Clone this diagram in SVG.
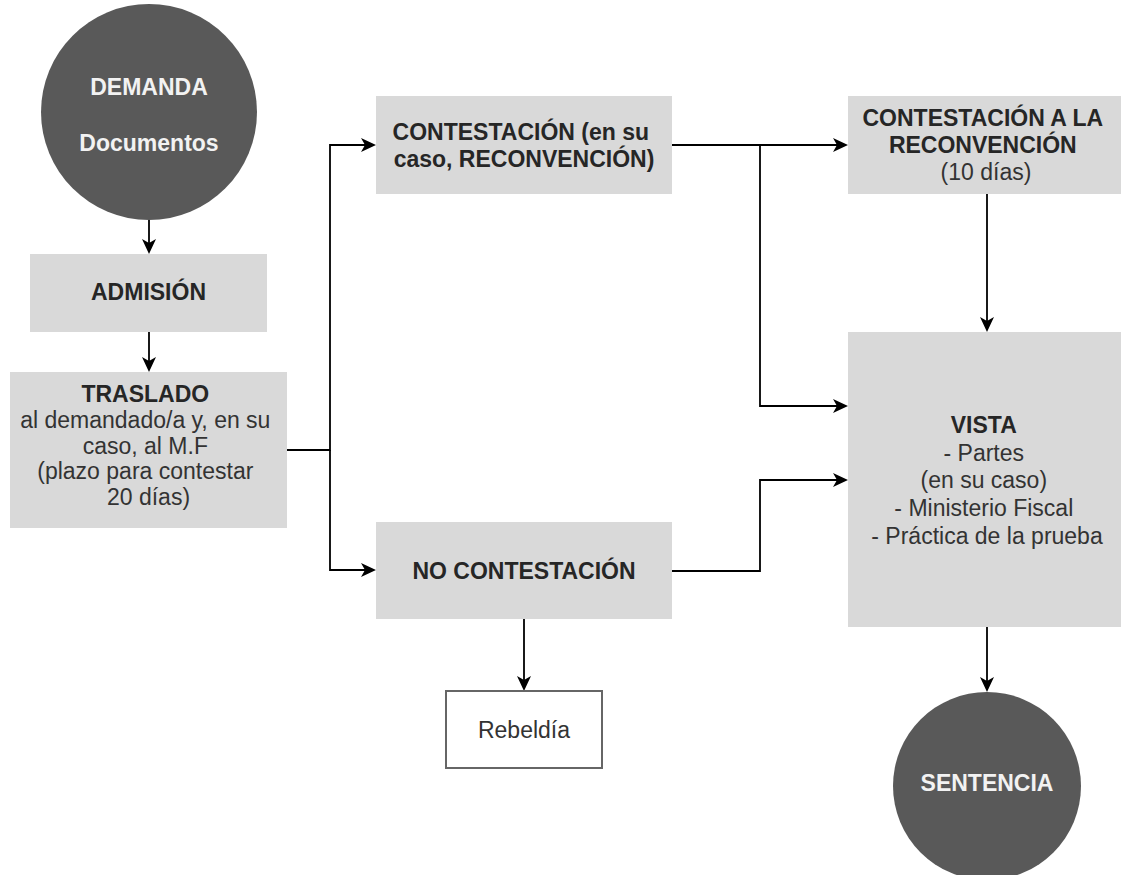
<svg xmlns="http://www.w3.org/2000/svg" width="1121" height="875" viewBox="0 0 1121 875">
  <style>
    .box { fill: #d9d9d9; }
    .circ { fill: #595959; }
    .ctxt { font-family: "Liberation Sans", Arial, sans-serif; font-size: 23px; font-weight: bold; fill: #f2f2f2; text-anchor: middle; }
    .t { font-family: "Liberation Sans", Arial, sans-serif; font-size: 23px; fill: #333333; text-anchor: middle; }
    .b { font-weight: bold; fill: #262626; }
    .edge { fill: none; stroke: #000000; stroke-width: 1.8; }
    .reb { fill: #ffffff; stroke: #666666; stroke-width: 2; }
  </style>
  <defs>
    <marker id="arr" viewBox="-6 -8 18 16" refX="0" refY="0" markerWidth="18" markerHeight="16" orient="auto" markerUnits="userSpaceOnUse">
      <path d="M10,0 L-5,-7 L-1,0 L-5,7 Z" fill="#000000"/>
    </marker>
  </defs>
  <rect width="1121" height="875" fill="#ffffff"/>

  <g id="connectors">
    <path class="edge" d="M149,220 V244" marker-end="url(#arr)"/>
    <path class="edge" d="M149,332 V362" marker-end="url(#arr)"/>
    <path class="edge" d="M287,450 H330 V145 H366" marker-end="url(#arr)"/>
    <path class="edge" d="M330,450 V570 H366" marker-end="url(#arr)"/>
    <path class="edge" d="M672,145 H838" marker-end="url(#arr)"/>
    <path class="edge" d="M760,145 V406 H838" marker-end="url(#arr)"/>
    <path class="edge" d="M672,571 H760 V480 H838" marker-end="url(#arr)"/>
    <path class="edge" d="M987,194 V322" marker-end="url(#arr)"/>
    <path class="edge" d="M524,619 V681" marker-end="url(#arr)"/>
    <path class="edge" d="M987,627 V682" marker-end="url(#arr)"/>
  </g>

  <g id="demanda">
    <circle class="circ" cx="149" cy="112" r="108"/>
    <text class="ctxt" x="149" y="95">DEMANDA</text>
    <text class="ctxt" x="149" y="151">Documentos</text>
  </g>

  <g id="admision">
    <rect class="box" x="30" y="254" width="237" height="78"/>
    <text class="t b" x="148.5" y="300">ADMISIÓN</text>
  </g>

  <g id="traslado">
    <rect class="box" x="10" y="372" width="277" height="156"/>
    <text class="t" x="148.5" y="402">
      <tspan class="b" x="148.5">TRASLADO</tspan>
      <tspan x="148.5" dy="25.8">al demandado/a y, en su</tspan>
      <tspan x="148.5" dy="25.8">caso, al M.F</tspan>
      <tspan x="148.5" dy="25.8">(plazo para contestar</tspan>
      <tspan x="148.5" dy="25.8">20 días)</tspan>
    </text>
  </g>

  <g id="contestacion">
    <rect class="box" x="376" y="96" width="296" height="98"/>
    <text class="t b" x="524" y="140">
      <tspan x="524">CONTESTACIÓN (en su</tspan>
      <tspan x="524" dy="27">caso, RECONVENCIÓN)</tspan>
    </text>
  </g>

  <g id="contestacion-reconvencion">
    <rect class="box" x="848" y="96" width="278" height="98"/>
    <text class="t" x="986" y="126">
      <tspan class="b" x="986">CONTESTACIÓN A LA</tspan>
      <tspan class="b" x="986" dy="27">RECONVENCIÓN</tspan>
      <tspan x="986" dy="27">(10 días)</tspan>
    </text>
  </g>

  <g id="vista">
    <rect class="box" x="848" y="332" width="278" height="295"/>
    <text class="t" x="987" y="433">
      <tspan class="b" x="987">VISTA</tspan>
      <tspan x="987" dy="27.7">- Partes</tspan>
      <tspan x="987" dy="27.7">(en su caso)</tspan>
      <tspan x="987" dy="27.7">- Ministerio Fiscal</tspan>
      <tspan x="987" dy="27.7">- Práctica de la prueba</tspan>
    </text>
  </g>

  <g id="no-contestacion">
    <rect class="box" x="376" y="522" width="296" height="97"/>
    <text class="t b" x="524" y="579">NO CONTESTACIÓN</text>
  </g>

  <g id="rebeldia">
    <rect class="reb" x="446" y="691" width="156" height="77"/>
    <text class="t" x="524" y="738">Rebeldía</text>
  </g>

  <g id="sentencia">
    <circle class="circ" cx="987" cy="786" r="94"/>
    <text class="ctxt" x="987" y="791">SENTENCIA</text>
  </g>
</svg>
